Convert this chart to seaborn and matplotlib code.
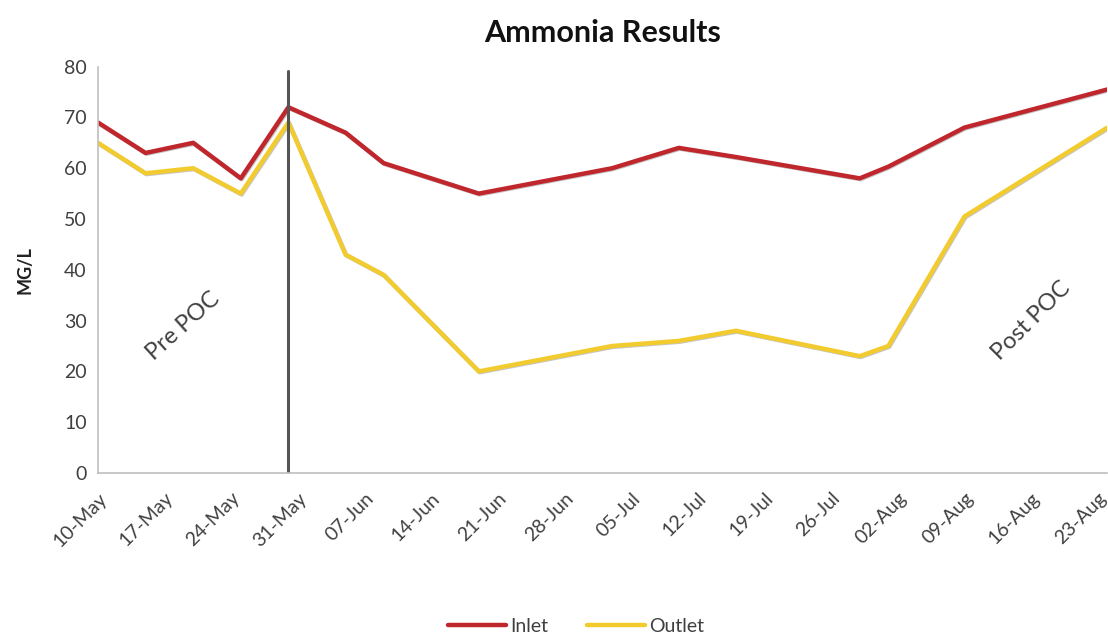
import matplotlib
matplotlib.use("Agg")
import matplotlib.pyplot as plt
import matplotlib.dates as mdates
import matplotlib.patheffects as pe
from matplotlib.lines import Line2D
import pandas as pd
import seaborn as sns

# sample dates and readings (mg/L)
dates = ["2021-05-10", "2021-05-15", "2021-05-20", "2021-05-25", "2021-05-30",
         "2021-06-05", "2021-06-09", "2021-06-19", "2021-07-03", "2021-07-10",
         "2021-07-16", "2021-07-29", "2021-08-01", "2021-08-09", "2021-08-24"]
inlet = [69, 63, 65, 58, 72, 67, 61, 55, 60, 64, 62.2, 58, 60.3, 68, 75.5]
outlet = [65, 59, 60, 55, 69, 43, 39, 20, 25, 26, 28, 23, 25, 50.5, 68]

poc_start = "2021-05-30"
tick_start, tick_end = "2021-05-10", "2021-08-23"

df = pd.DataFrame({
    "Date": pd.to_datetime(dates * 2),
    "MG/L": inlet + outlet,
    "Series": ["Inlet"] * len(inlet) + ["Outlet"] * len(outlet),
})

sns.set_theme(style="white")
plt.rcParams["font.family"] = ["Lato", "DejaVu Sans"]

colors = {"Inlet": "#C0272D", "Outlet": "#F2CB2F"}

fig = plt.figure(figsize=(11.08, 6.43), dpi=100)
ax = fig.add_axes([0.0884, 0.2644, 0.911, 0.632])

sns.lineplot(data=df, x="Date", y="MG/L", hue="Series", palette=colors,
             linewidth=3.2, legend=False, ax=ax)
for ln in ax.lines:
    ln.set_path_effects([pe.SimpleLineShadow(offset=(0.6, -0.6), alpha=0.25), pe.Normal()])

ax.axvline(pd.Timestamp(poc_start), ymin=0, ymax=0.99, color="#555555", lw=2.2)

ax.set_xlim(pd.Timestamp(tick_start), pd.Timestamp("2021-08-24"))
ax.set_ylim(0, 80)
ax.set_yticks(range(0, 81, 10))
ax.set_xticks(pd.date_range(tick_start, tick_end, freq="7D"))
ax.xaxis.set_major_formatter(mdates.DateFormatter("%d-%b"))
plt.setp(ax.get_xticklabels(), rotation=45, ha="right", rotation_mode="anchor")
ax.tick_params(axis="both", labelsize=14, colors="#404040", length=0, pad=8)
ax.tick_params(axis="x", pad=12)

sns.despine(ax=ax)
for side in ("left", "bottom"):
    ax.spines[side].set_color("#BFBFBF")
    ax.spines[side].set_linewidth(1.2)

ax.set_xlabel("")
ax.set_ylabel("MG/L", fontsize=13, fontweight="bold", color="#222222", labelpad=22)
ax.set_title("Ammonia Results", fontsize=22, fontweight="bold", color="#111111", pad=18)

ax.text(pd.Timestamp("2021-05-19"), 29, "Pre POC", rotation=42, fontsize=17,
        color="#404040", ha="center", va="center")
ax.text(pd.Timestamp("2021-08-16"), 30, "Post POC", rotation=45, fontsize=17,
        color="#404040", ha="center", va="center")

handles = [Line2D([], [], color=colors[k], lw=3.2) for k in colors]
fig.legend(handles, list(colors), loc="lower center", bbox_to_anchor=(0.52, -0.015),
           ncol=2, frameon=False, fontsize=14, handlelength=3.0, handletextpad=0.2,
           columnspacing=2.0, labelcolor="#404040")

fig.savefig("out.png", dpi=100)
